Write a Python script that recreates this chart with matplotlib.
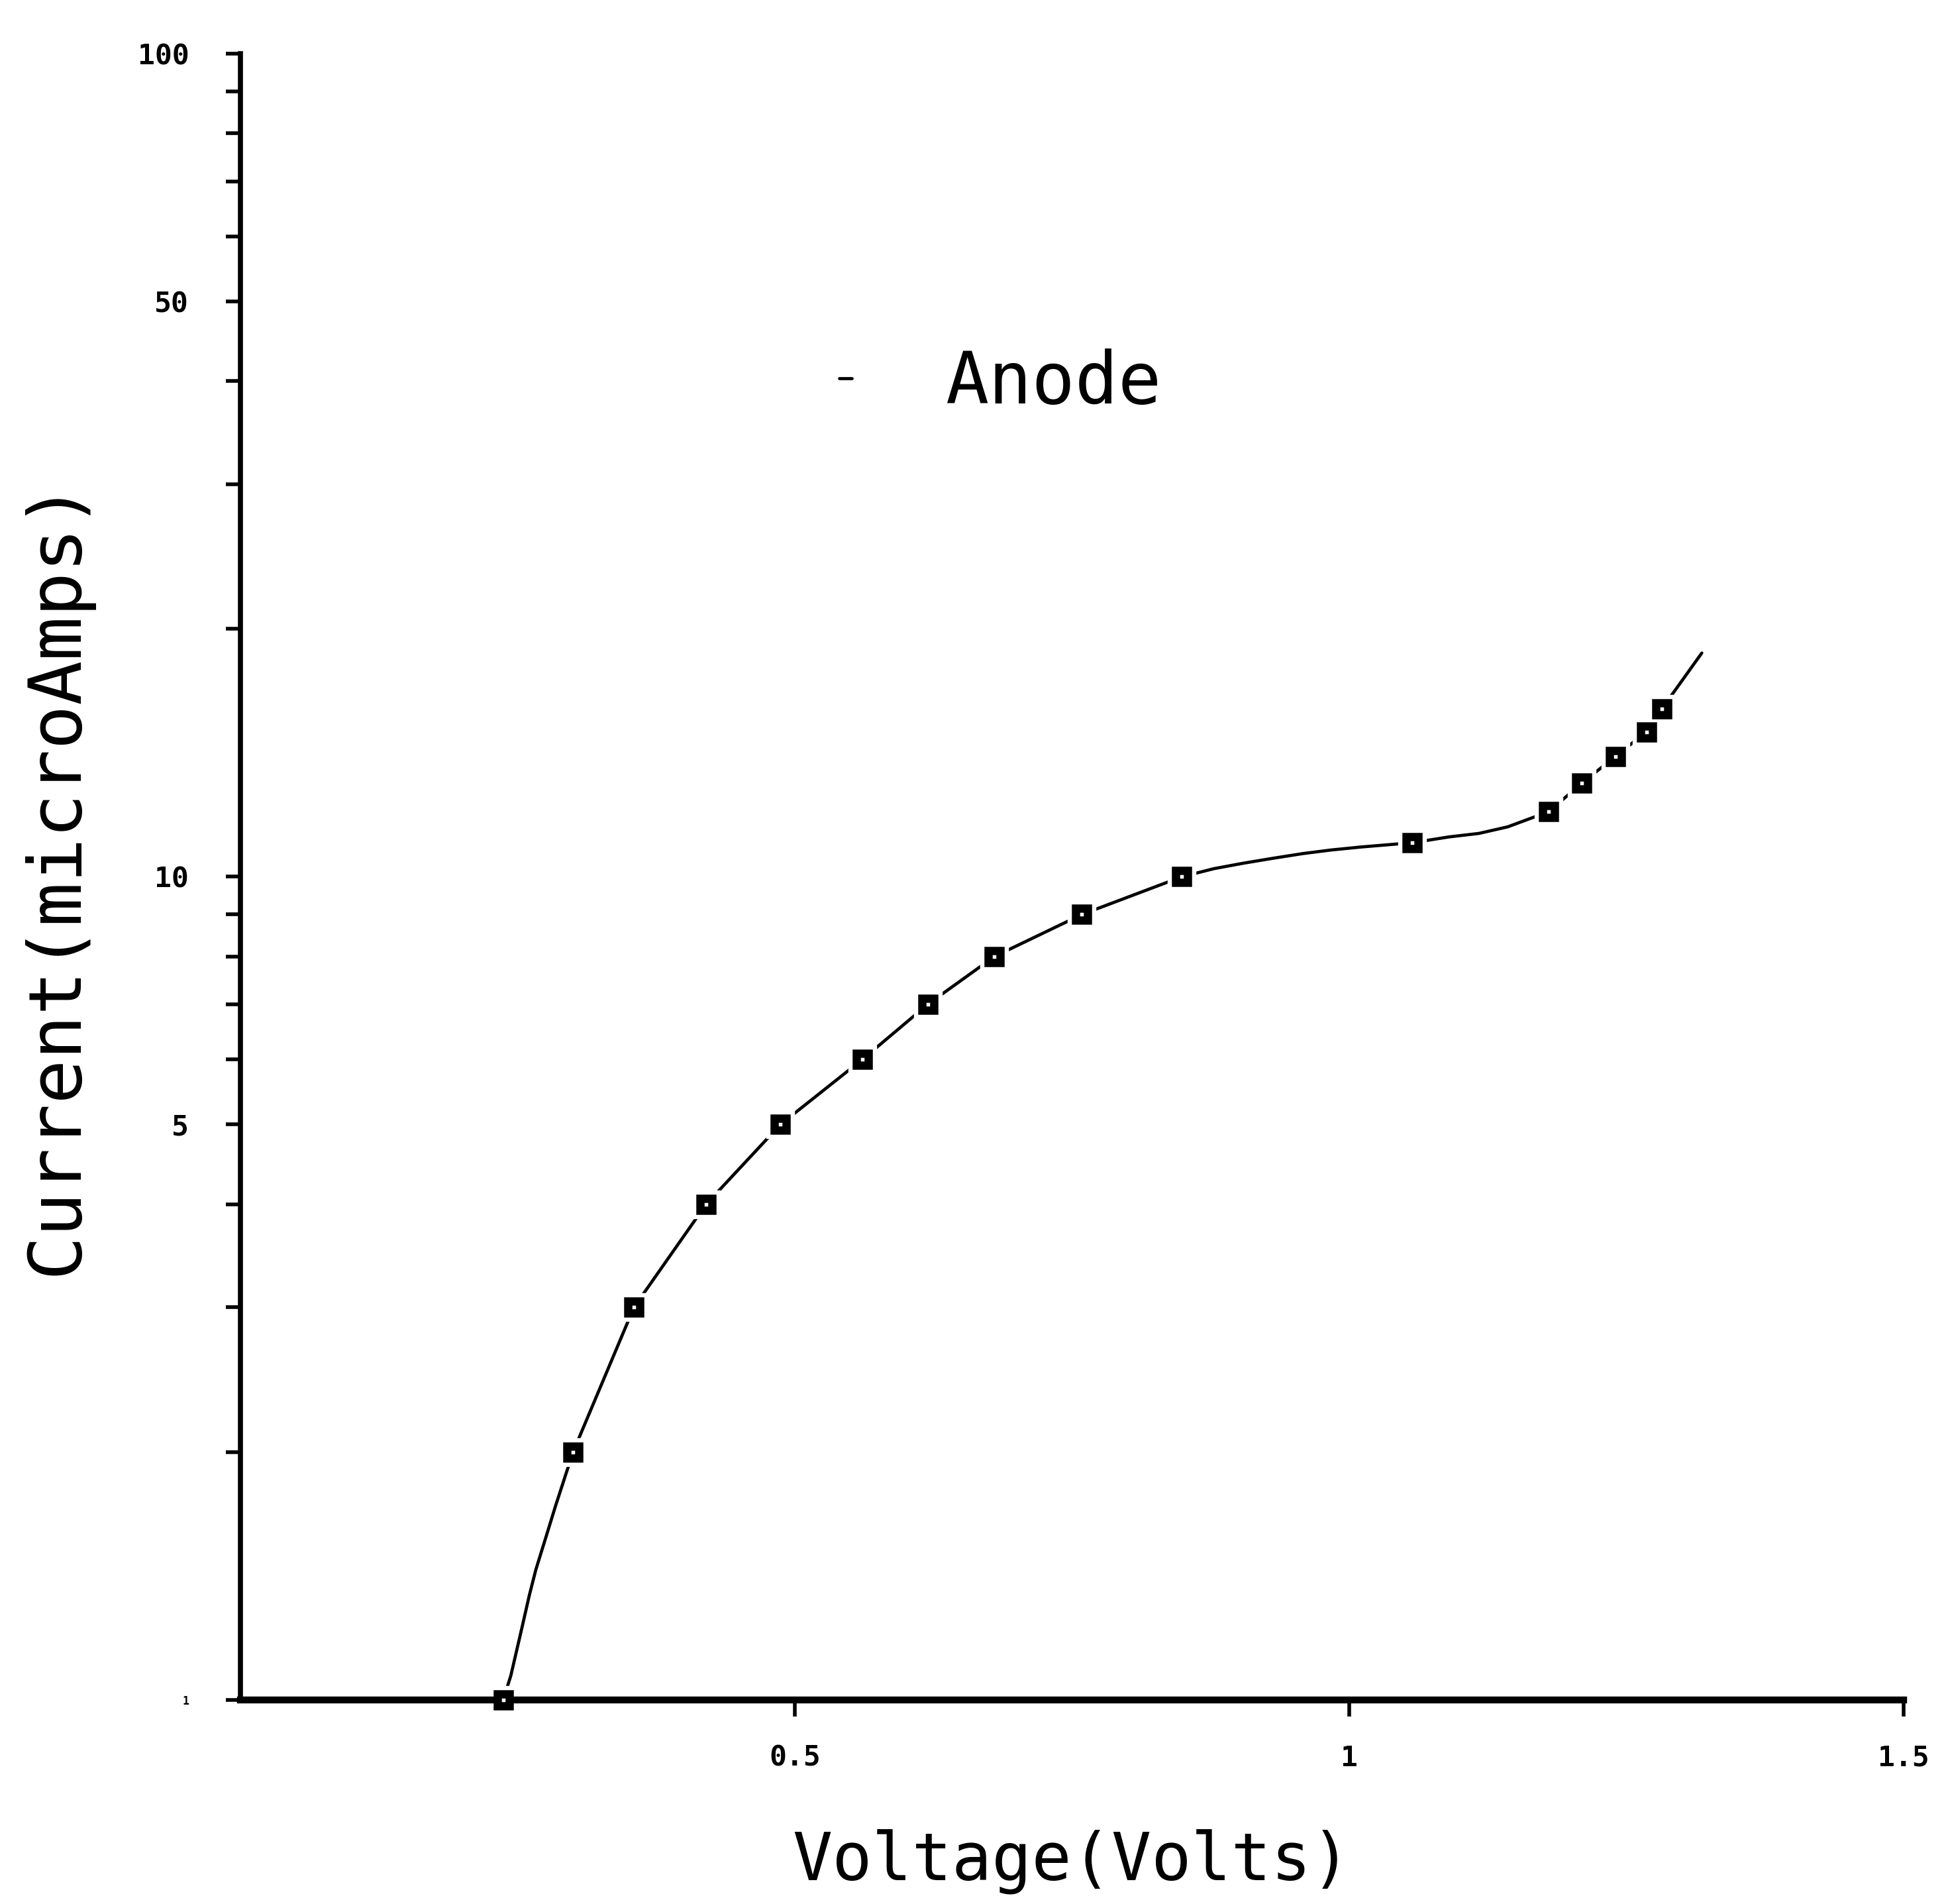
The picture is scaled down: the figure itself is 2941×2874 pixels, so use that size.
import matplotlib
matplotlib.use("Agg")
import matplotlib.pyplot as plt
from matplotlib.ticker import FixedLocator, FixedFormatter, NullFormatter

# measured anode readings
voltage = [0.237, 0.300, 0.355, 0.420, 0.487, 0.561, 0.620, 0.680,
           0.759, 0.849, 1.057, 1.180, 1.210, 1.240, 1.268, 1.282]
current = [1, 2, 3, 4, 5, 6, 7, 8, 9, 10, 11, 12, 13, 14, 15, 16]

# hand fitted curve through the readings, run a little past the last one
fit_voltage = [0.237, 0.2439, 0.2537, 0.2606, 0.2665, 0.2764, 0.2842,
               0.300, 0.355, 0.420, 0.487, 0.561, 0.620, 0.680,
               0.759, 0.849, 0.878, 0.905, 0.931, 0.958, 0.984, 1.011,
               1.057, 1.090, 1.117, 1.143, 1.180, 1.210, 1.240, 1.268,
               1.282, 1.318]
fit_current = [1.0, 1.07, 1.22, 1.34, 1.44, 1.59, 1.72,
               2, 3, 4, 5, 6, 7, 8,
               9, 10, 10.23, 10.39, 10.53, 10.67, 10.78, 10.87,
               11, 11.18, 11.29, 11.50, 12, 13, 14, 15,
               16, 18.7]

major_y = [1, 5, 10, 50, 100]
major_y_labels = ["1", "5", "10", "50", "100"]
minor_y = [2, 3, 4, 6, 7, 8, 9, 20, 30, 40, 60, 70, 80, 90]
x_ticks = [0.5, 1, 1.5]
x_tick_labels = ["0.5", "1", "1.5"]

mono = "DejaVu Sans Mono"

fig = plt.figure(figsize=(29.41, 28.74), dpi=100)
ax = fig.add_axes([0.1234, 0.1072, 0.8538, 0.8646])

ax.set_yscale("log")
ax.set_xlim(0, 1.5)
ax.set_ylim(1, 100)

line, = ax.plot(fit_voltage, fit_current, color="black", lw=3.4,
                solid_capstyle="round", solid_joinstyle="round",
                zorder=2, label="Anode")
# white halo so the curve stops short of each point
ax.plot(voltage, current, ls="none", marker="s", ms=30, mfc="white",
        mec="white", zorder=2.2, clip_on=False)
ax.plot(voltage, current, ls="none", marker="s", ms=13, mfc="white",
        mec="black", mew=9, zorder=3, clip_on=False)

for side in ("top", "right"):
    ax.spines[side].set_visible(False)
ax.spines["left"].set_linewidth(5.5)
ax.spines["bottom"].set_linewidth(7.5)

ax.yaxis.set_major_locator(FixedLocator(major_y))
ax.yaxis.set_major_formatter(FixedFormatter(major_y_labels))
ax.yaxis.set_minor_locator(FixedLocator(minor_y))
ax.yaxis.set_minor_formatter(NullFormatter())
ax.xaxis.set_major_locator(FixedLocator(x_ticks))
ax.xaxis.set_major_formatter(FixedFormatter(x_tick_labels))
ax.xaxis.set_minor_locator(FixedLocator([]))

ax.tick_params(axis="y", which="both", direction="out", length=16,
               width=4, pad=40)
ax.tick_params(axis="x", which="major", direction="out", length=18,
               width=4, pad=30)

for lab in ax.get_yticklabels() + ax.get_xticklabels():
    lab.set_fontfamily(mono)
    lab.set_fontweight("bold")
    lab.set_fontsize(31)
ax.get_yticklabels()[0].set_fontsize(12)

ax.set_xlabel("Voltage(Volts)", fontfamily=mono, fontsize=72, labelpad=62)
ax.set_ylabel("Current(microAmps)", fontfamily=mono, fontsize=80,
              labelpad=50)

ax.legend(handles=[line], loc="center left", bbox_to_anchor=(0.36, 0.80),
          frameon=False, handlelength=0.18, handletextpad=1.3,
          borderpad=0, borderaxespad=0, prop={"family": mono, "size": 78})

fig.savefig("out.png", dpi=100, facecolor="white")
